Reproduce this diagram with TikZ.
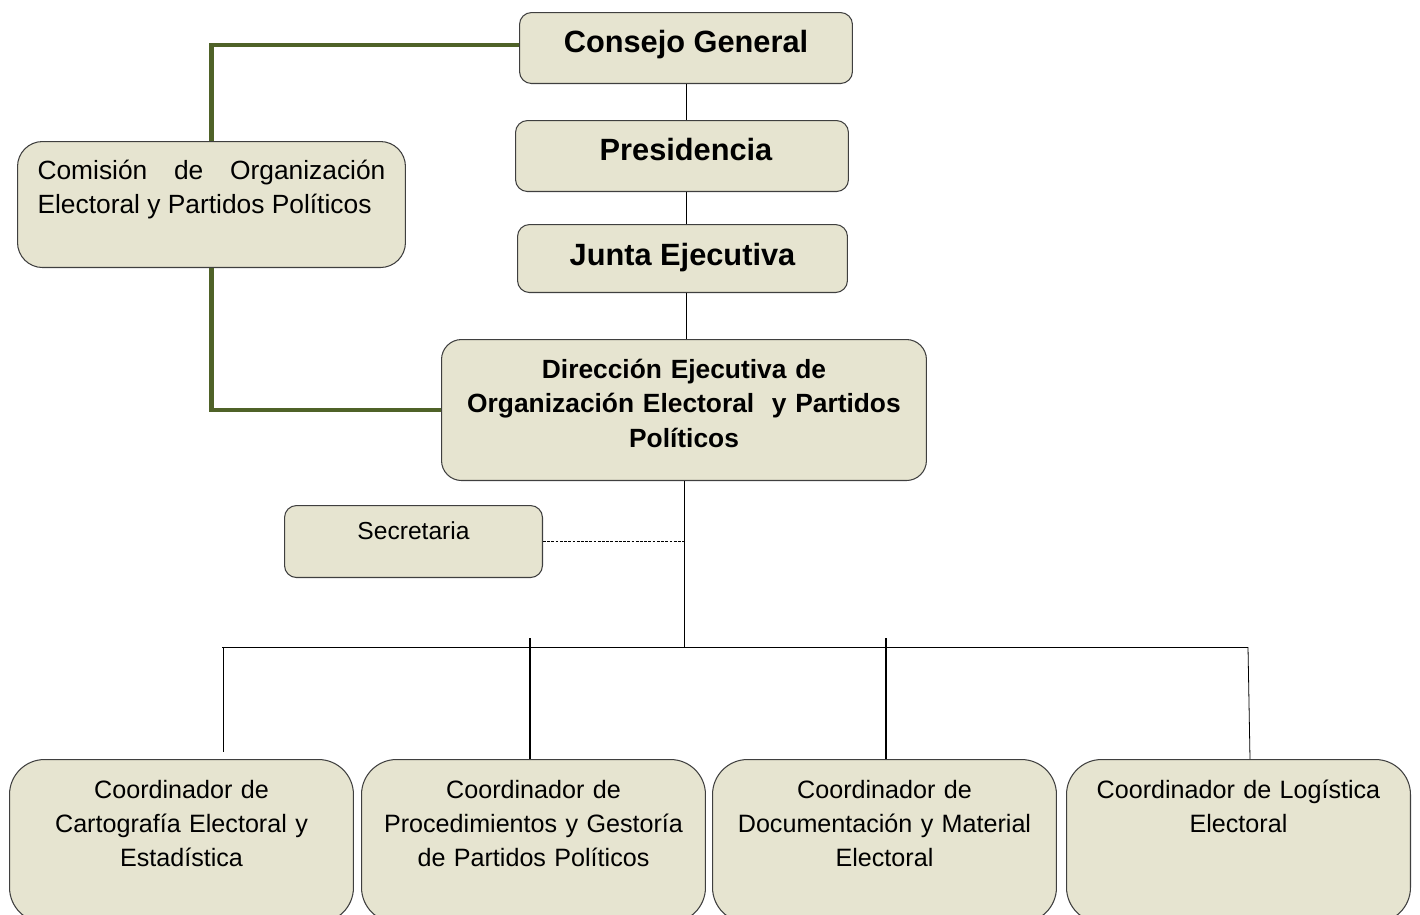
\documentclass[tikz,border=0pt]{standalone}
\usepackage{fontspec}
\setmainfont{Liberation Sans}
\usepackage{tikz}
\usetikzlibrary{calc}

\definecolor{boxfill}{HTML}{E6E4D0}
\definecolor{boxline}{HTML}{3F3F3F}
\definecolor{olivegreen}{HTML}{4F6228}

\begin{document}
\begin{tikzpicture}[x=0.02cm,y=-0.02cm,
        box/.style={draw=boxline, fill=boxfill, line width=0.6pt, rounded corners=0.24cm,
            inner xsep=0pt, inner ysep=0pt, anchor=north west},
        title/.style={box, font=\fontsize{17.5}{21}\selectfont\bfseries, align=center},
        coord/.style={box, rounded corners=0.7cm, minimum width=6.88cm, text width=6.88cm,
            align=center, text height=0.78cm, text depth=2.48cm,
            font=\fontsize{14.3}{19.3}\selectfont},
        link/.style={line width=0.45pt},
        greenlink/.style={draw=olivegreen, line width=2.3pt}]
        \useasboundingbox (0,0) rectangle (1420,914);

        % upper boxes
        \node[title, minimum width=6.66cm, text height=0.8cm, text depth=0.62cm] (consejo) at (519,12) {Consejo General};
        \node[title, minimum width=6.66cm, text height=0.8cm, text depth=0.62cm] (presidencia) at (515,120) {\hspace{0.16cm}Presidencia};
        \node[title, minimum width=6.6cm, text height=0.82cm, text depth=0.54cm] (junta) at (517,224) {Junta Ejecutiva};
        \node[box, rounded corners=0.4cm, text width=9.7cm, align=center, text height=0.77cm, text depth=2.05cm,
            font=\fontsize{15}{19.8}\selectfont\bfseries] (direccion) at (441,339)
            {Dirección Ejecutiva de\\Organización Electoral \ y Partidos\\Políticos};

        \node[box, rounded corners=0.5cm, minimum width=7.76cm, text width=6.96cm, inner xsep=0.4cm, align=justify,
            text height=0.75cm, text depth=1.77cm, font=\fontsize{15}{19.8}\selectfont] (comision) at (17,141)
            {Comisión de Organización Electoral y Partidos Políticos};
        \node[box, minimum width=5.16cm, align=center, text height=0.68cm, text depth=0.76cm,
            font=\fontsize{14}{17}\selectfont] (secretaria) at (284,505) {Secretaria};

        % coordinadores
        \node[coord] (cartografia) at (9,759) {Coordinador de\\Cartografía Electoral y\\Estadística};
        \node[coord] (procedimientos) at (361,759) {Coordinador de\\Procedimientos y Gestoría\\de Partidos Políticos};
        \node[coord] (documentacion) at (712,759) {Coordinador de\\Documentación y Material\\Electoral};
        \node[coord] (logistica) at (1066,759) {Coordinador de Logística\\Electoral};

        % green links
        \draw[greenlink] ([yshift=0.07cm]consejo.west) -| (comision.north);
        \draw[greenlink] (comision.south) |- (direccion.west);

        % main line
        \draw[link] (consejo.south) -- (consejo.south |- presidencia.north);
        \draw[link] (presidencia.south -| consejo.south) -- (consejo.south |- junta.north);
        \draw[link] (junta.south -| consejo.south) -- (consejo.south |- direccion.north);

        \coordinate (busleft) at (222,647);
        \coordinate (busright) at (1248,647);
        \coordinate (bus) at (direccion.south |- busleft);
        \draw[link] (direccion.south) -- (bus);
        \draw[link] (busleft) -- (busright);
        \draw[link, dash pattern=on 1.6pt off 0.8pt, line width=0.4pt] (secretaria.east) -- (secretaria.east -| direccion.south);

        % drops
        \coordinate (drop1) at (223,752);
        \coordinate (drop2) at (530,638);
        \coordinate (drop3) at (886,638);
        \draw[link] (busleft -| drop1) -- (drop1);
        \draw[line width=1.1pt] (drop2) -- (drop2 |- procedimientos.north);
        \draw[line width=1.1pt] (drop3) -- (drop3 |- documentacion.north);
        \draw[link] (busright) -- ([xshift=2*0.02cm]busright |- logistica.north);
\end{tikzpicture}
\end{document}
